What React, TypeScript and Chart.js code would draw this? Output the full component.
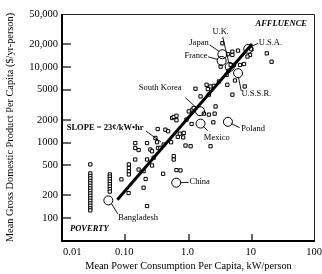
import React, { useEffect, useRef } from "react";
import { Chart, registerables } from "chart.js";

Chart.register(...registerables);

const FONT = "'Liberation Serif', 'Times New Roman', Times, serif";

// Axis ticks
const xTicks = [0.01, 0.1, 1, 10, 100];
const xTickLabels = ["0.01", "0.10", "1.0", "10", "100"];
const yTicks = [100, 200, 500, 1000, 2000, 5000, 10000, 20000, 50000];
const yTickLabels = ["100", "200", "500", "1000", "2000", "5000", "10,000", "20,000", "50,000"];

// Unlabelled countries: power (kW/person) and GDP ($/yr-person)
const countryPower = [
  0.028, 0.028, 0.028, 0.028, 0.028, 0.028, 0.028, 0.028, 0.028, 0.028, 0.028, 0.028, 0.028, 0.028, 0.028, 0.028, 0.028,
  0.057, 0.057, 0.057, 0.057, 0.057, 0.057, 0.057, 0.057,
  0.087, 0.114, 0.114, 0.114, 0.114, 0.113, 0.144, 0.144, 0.163, 0.144,
  0.195, 0.21, 0.195, 0.221, 0.249, 0.265, 0.221, 0.281, 0.265, 0.33,
  0.359, 0.405, 0.318, 0.397, 0.221, 0.326, 0.431, 0.476, 0.531, 0.584,
  0.584, 0.645, 0.747, 0.677, 0.728, 0.842, 0.824, 0.551, 0.584, 0.645,
  0.645, 0.929, 1.12, 0.896, 1.08, 2.23, 2.47, 1.01, 1.15, 1.21,
  1.75, 2.1, 2.59, 2.68, 1.29, 1.55, 1.93, 2.23, 2.52, 2.02,
  3.03, 4.11, 4.94, 5.43, 7.74, 4.01, 4.27, 3.22, 4.64, 5.24,
  6.52, 7.55, 4.21, 4.94, 4.94, 6.07, 9.89, 9.4, 8.55, 17.3,
  20.6, 3.43, 2.1, 0.3, 0.163,
];
const countryGdp = [
  514, 391, 362, 336, 311, 289, 268, 248, 230, 213, 198, 183, 170, 157, 146, 135, 127,
  379, 355, 330, 305, 282, 262, 242, 225,
  326, 514, 462, 415, 379, 215, 985, 847, 796, 597,
  419, 330, 253, 985, 809, 768, 597, 630, 498, 847,
  851, 941, 1010, 387, 145, 1510, 1480, 1410, 1010, 661,
  597, 432, 428, 1190, 1310, 1340, 1170, 2110, 2180, 2260,
  1970, 2010, 1760, 913, 894, 894, 1850, 2580, 2720, 2860,
  2410, 2340, 2410, 3000, 5140, 4070, 5800, 5510, 5620, 5090,
  6410, 5800, 4290, 6610, 5510, 7850, 8860, 10100, 10600, 10600,
  10600, 10900, 14700, 15900, 14400, 16400, 17100, 14400, 13700, 15100,
  11700, 20500, 4290, 1150, 440,
];

// Named countries (circles)
const namedCountries = ["U.S.A.", "Japan", "France", "U.K.", "U.S.S.R.", "South Korea", "Mexico", "Poland", "China", "Bangladesh"];
const namedPower = [8.8, 3.43, 3.34, 4.48, 6.07, 1.52, 1.55, 4.2, 0.64, 0.054];
const namedGdp = [17300, 14700, 12000, 10000, 8260, 2600, 1780, 1880, 295, 172];

// Trend line (slope = 23 cents / kW-hr)
const slopePower = [0.075, 10.1];
const slopeGdp = [175, 20100];

// Label placement (pixel offsets from each circle)
const labelLayout = [
  { tx: 10.5, ty: -6.3, align: "left", l: [3.5, -2.5, 9.5, -5.5] },
  { tx: -13.7, ty: -11, align: "right", l: [-12.7, -9.3, -3.2, -2.8] },
  { tx: -14, ty: -5, align: "right", l: [-13.5, -4, -4, -1.5] },
  { tx: -17.3, ty: -35.3, align: "left", l: [-7, -30, -1, -4.5] },
  { tx: 3.4, ty: 20.7, align: "left", l: [0.5, 4.2, 3.2, 17.7] },
  { tx: -18.5, ty: -23.4, align: "right", l: [-14.5, -13.4, -2.5, -2.4] },
  { tx: 3.3, ty: 13.7, align: "left", l: [2.5, 2.5, 7, 7] },
  { tx: 13.4, ty: 6.6, align: "left", l: [3.2, 1.8, 11.7, 5.8] },
  { tx: 13.3, ty: -0.6, align: "left", l: [4.5, 0, 12.5, -0.3] },
  { tx: 10, ty: 17, align: "left", l: [3, 3, 9.5, 13.5] },
];

const decor = {
  id: "decor",
  afterDatasetsDraw(chart: any) {
    const { ctx, chartArea: a, scales } = chart;
    const xs = scales.x;
    const ys = scales.y;
    const line = (x1: number, y1: number, x2: number, y2: number) => {
      ctx.beginPath();
      ctx.moveTo(x1, y1);
      ctx.lineTo(x2, y2);
      ctx.stroke();
    };
    ctx.save();
    ctx.strokeStyle = "#000";
    ctx.fillStyle = "#000";
    // frame
    ctx.lineWidth = 1;
    ctx.strokeStyle = "#222";
    ctx.beginPath();
    ctx.moveTo(a.left, a.top + 0.5);
    ctx.lineTo(a.right - 0.5, a.top + 0.5);
    ctx.lineTo(a.right - 0.5, a.bottom);
    ctx.stroke();
    ctx.strokeStyle = "#000";
    ctx.lineWidth = 2;
    ctx.beginPath();
    ctx.moveTo(a.left, a.top);
    ctx.lineTo(a.left, a.bottom);
    ctx.lineTo(a.right, a.bottom);
    ctx.stroke();
    // inner tick marks
    ctx.lineWidth = 1.2;
    yTicks.forEach((v) => {
      if (v >= 50000) return;
      const py = Math.round(ys.getPixelForValue(v));
      line(a.left, py, a.left + 9, py);
    });
    xTicks.forEach((v, i) => {
      if (i === 0 || i === xTicks.length - 1) return;
      const px = Math.round(xs.getPixelForValue(v));
      line(px, a.bottom, px, a.bottom - 7);
    });
    // x tick labels
    ctx.font = `10.5px ${FONT}`;
    ctx.textBaseline = "middle";
    xTicks.forEach((v, i) => {
      const px = xs.getPixelForValue(v);
      ctx.textAlign = i === 0 ? "left" : "center";
      ctx.fillText(xTickLabels[i], i === 0 ? px + 1 : px - 1, a.bottom + 11);
    });
    // country labels + leader lines
    ctx.font = `8.5px ${FONT}`;
    ctx.lineWidth = 0.9;
    namedCountries.forEach((name, i) => {
      const px = xs.getPixelForValue(namedPower[i]);
      const py = ys.getPixelForValue(namedGdp[i]);
      const L = labelLayout[i];
      line(px + L.l[0], py + L.l[1], px + L.l[2], py + L.l[3]);
      ctx.textAlign = L.align;
      ctx.fillText(name, px + L.tx, py + L.ty);
    });
    // slope label
    ctx.font = `bold 8.5px ${FONT}`;
    ctx.textAlign = "left";
    ctx.fillText("SLOPE = 23\u00A2/kW\u2022hr", a.left + 4.7, a.top + 113.5);
    line(a.left + 84, a.top + 117, a.left + 99, a.top + 128);
    // region labels
    ctx.font = `italic bold 8.5px ${FONT}`;
    ctx.textAlign = "right";
    ctx.fillText("AFFLUENCE", a.right - 8, a.top + 10);
    ctx.textAlign = "left";
    ctx.fillText("POVERTY", a.left + 8, a.bottom - 12.3);
    ctx.restore();
  },
};

export default function App() {
  const ref = useRef<HTMLCanvasElement>(null);
  useEffect(() => {
    if (!ref.current) return;
    Chart.defaults.font.family = FONT;
    Chart.defaults.color = "#000";
    const chart = new Chart(ref.current, {
      type: "scatter",
      data: {
        datasets: [
          {
            label: "Countries",
            data: countryPower.map((x, i) => ({ x, y: countryGdp[i] })),
            pointStyle: "rect",
            pointRadius: 2.3,
            pointBorderWidth: 1,
            pointBorderColor: "#000",
            pointBackgroundColor: "#fff",
            order: 3,
          },
          {
            label: "Trend",
            data: slopePower.map((x, i) => ({ x, y: slopeGdp[i] })),
            showLine: true,
            borderColor: "#000",
            borderWidth: 3,
            pointRadius: 0,
            fill: false,
            order: 2,
          },
          {
            label: "Named",
            data: namedPower.map((x, i) => ({ x, y: namedGdp[i] })),
            pointStyle: "circle",
            pointRadius: 4.5,
            pointBorderWidth: 1,
            pointBorderColor: "#000",
            pointBackgroundColor: "rgba(255,255,255,0)",
            order: 1,
          },
        ],
      },
      options: {
        animation: false,
        responsive: false,
        events: [],
        layout: { padding: { left: 0, right: 7, top: 14, bottom: 0 } },
        plugins: { legend: { display: false }, tooltip: { enabled: false } },
        scales: {
          x: {
            type: "logarithmic",
            position: "bottom",
            min: 0.01,
            max: 100,
            grid: { display: false, drawTicks: false },
            border: { display: false },
            ticks: { display: false },
            afterBuildTicks: (s: any) => {
              s.ticks = xTicks.map((value) => ({ value }));
            },
            afterFit: (s: any) => {
              s.height = 33;
              s.paddingLeft = 0;
              s.paddingRight = 0;
            },
            title: {
              display: true,
              text: "Mean Power Consumption Per Capita, kW/person",
              font: { size: 10.3, family: FONT },
              color: "#000",
              padding: { top: 0, bottom: 2 },
            },
          },
          y: {
            type: "logarithmic",
            position: "left",
            min: 50,
            max: 50000,
            grid: { display: false, drawTicks: false },
            border: { display: false },
            ticks: {
              autoSkip: false,
              padding: 4,
              font: { size: 10.5, family: FONT },
              color: "#000",
              callback: (v: any) => {
                const i = yTicks.indexOf(Number(v));
                return i >= 0 ? yTickLabels[i] : "";
              },
            },
            afterBuildTicks: (s: any) => {
              s.ticks = yTicks.map((value) => ({ value }));
            },
            afterFit: (s: any) => {
              s.width = 62;
            },
            title: {
              display: true,
              text: "Mean Gross Domestic Product Per Capita ($/yr-person)",
              font: { size: 10.3, family: FONT },
              color: "#000",
              padding: { top: 4, bottom: 0 },
            },
          },
        },
      },
      plugins: [decor],
    } as any);
    return () => chart.destroy();
  }, []);
  return (
    <div style={{ position: "absolute", left: 0, top: 0, width: 322, height: 274, background: "#fff" }}>
      <canvas ref={ref} width={322} height={274} style={{ display: "block" }} />
    </div>
  );
}
